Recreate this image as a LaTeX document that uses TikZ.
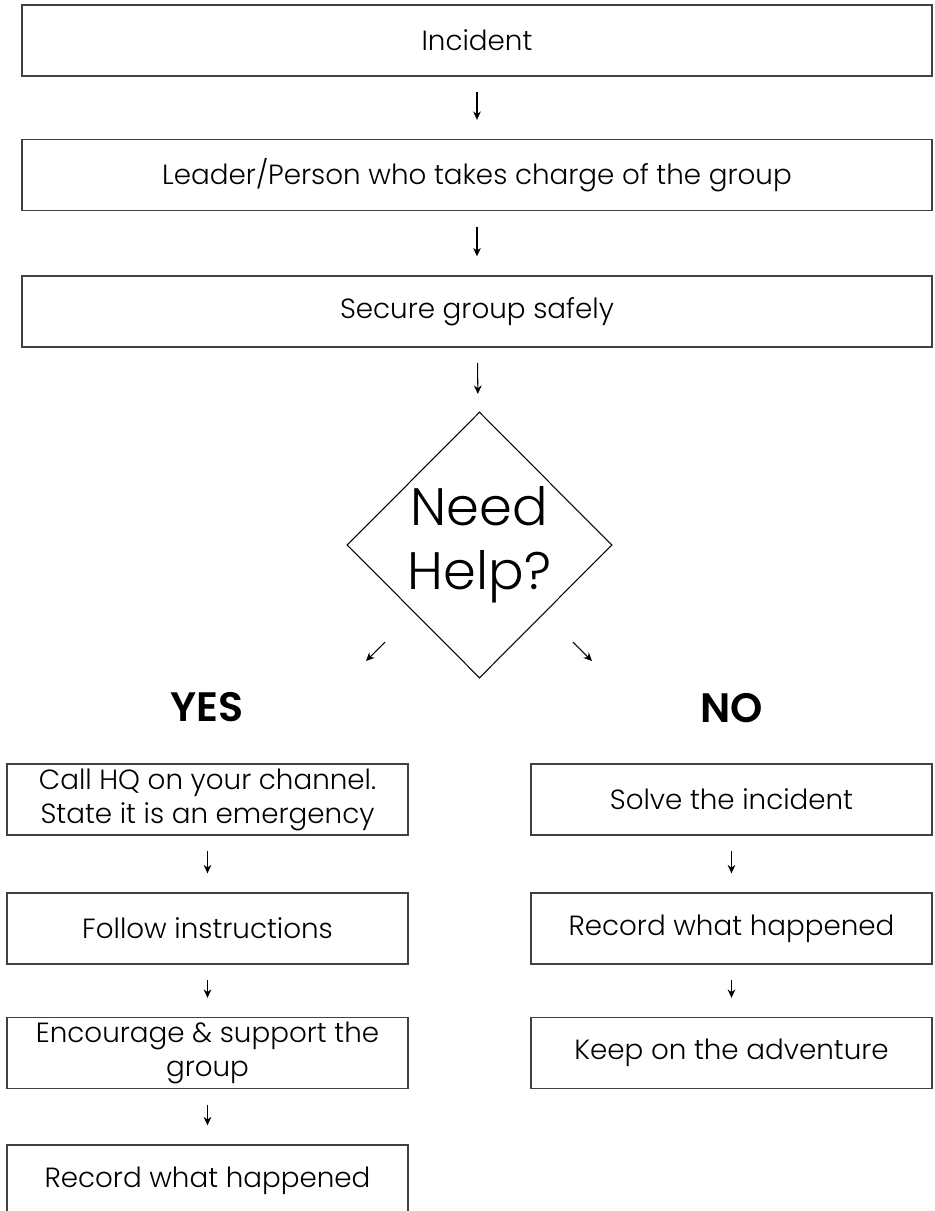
\documentclass[tikz,border=0pt]{standalone}
\usepackage{fontspec}
\setmainfont{Poppins}[UprightFont={Poppins Light}, BoldFont={Poppins SemiBold}]
\usetikzlibrary{arrows.meta,shapes.geometric}
\definecolor{edge}{RGB}{64,64,64}
\tikzset{
	stepbox/.style={draw=edge, line width=0.4pt, inner sep=0pt, minimum height=0.71cm, align=center, font=\fontsize{7.9}{9.7}\selectfont},
	widebox/.style={stepbox, minimum width=9.1cm},
	colbox/.style={stepbox, minimum width=4.01cm},
	tip/.style={line width=0.3pt, -{Stealth[length=2.4pt,width=2.2pt]}},
	arr/.style={tip, shorten <=0.155cm, shorten >=0.19cm},
	answer/.style={font=\fontsize{11.7}{14}\selectfont\bfseries}
}

\begin{document}
\begin{tikzpicture}
			%%%%% START %%%%%
			\useasboundingbox (0, 0) rectangle (9.34, -12.11);
			
			\node[widebox] (incident) at (4.77, -0.405) {Incident};
			\node[widebox] (leader) at (4.77, -1.75) {Leader/Person who takes charge of the group};
			\node[widebox] (secure) at (4.77, -3.115) {Secure group safely};
			
			\node[draw, diamond, line width=0.3pt, inner sep=0pt, minimum width=2.65cm, minimum height=2.66cm, align=center, font=\fontsize{15}{18.2}\selectfont] (help) at (4.795, -5.45) {Need\\Help?};
			
			\node[answer] (yes) at (2.07, -7.07) {YES};
			\node[answer] (no) at (7.32, -7.08) {NO};
			
			\node[colbox] (call) at (2.075, -7.995) {Call HQ on your channel.\\State it is an emergency};
			\node[colbox] (follow) at (2.075, -9.285) {Follow instructions};
			\node[colbox] (encourage) at (2.075, -10.53) {Encourage \& support the\\group};
			\node[colbox] (recordyes) at (2.075, -11.805) {Record what happened};
			
			\node[colbox] (solve) at (7.315, -7.995) {Solve the incident};
			\node[colbox] (recordno) at (7.315, -9.285) {Record what happened};
			\node[colbox] (keep) at (7.315, -10.53) {Keep on the adventure};
			
			\draw[arr] (incident) -- (leader);
			\draw[arr] (leader) -- (secure);
			\draw[arr] (secure) -- (help);
			
			\coordinate (yestail) at (3.85, -6.42);
			\coordinate (yestip) at (3.66, -6.61);
			\coordinate (notail) at (5.73, -6.42);
			\coordinate (notip) at (5.92, -6.61);
			\draw[tip] (yestail) -- (yestip);
			\draw[tip] (notail) -- (notip);
			
			\draw[arr] (call) -- (follow);
			\draw[arr] (follow) -- (encourage);
			\draw[arr] (encourage) -- (recordyes);
			
			\draw[arr] (solve) -- (recordno);
			\draw[arr] (recordno) -- (keep);
			%%%%% END %%%%%
		\end{tikzpicture}
\end{document}
